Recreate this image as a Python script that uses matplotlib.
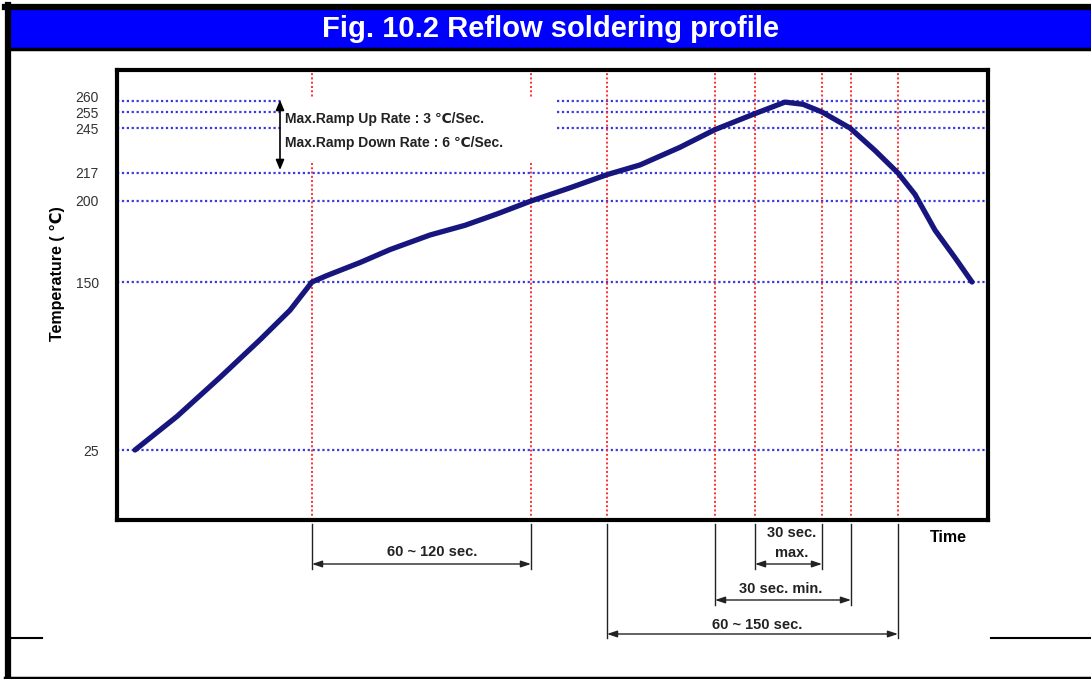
#%% Imports
import numpy as np
import matplotlib.pyplot as plt
import matplotlib.transforms as mtransforms
from matplotlib.patches import Rectangle
from matplotlib.lines import Line2D

#%% Datos (perfil de reflow)

# tiempo en unidades arbitrarias (el eje no tiene escala)
tiempo = [9, 30, 51.5, 71.5, 86.5, 97.5, 105, 121.5, 136.5, 156.5, 174, 190, 207,
          226.5, 245, 261.5, 281.5, 299, 319, 334, 343, 352.5, 366.5, 379, 390.5,
          399, 409, 419, 427.5]
temperatura = [25, 50, 79, 107, 129, 150, 154, 162, 170, 179, 185, 192, 200,
               208, 216, 222, 233, 244, 254, 259.5, 258.5, 255, 245, 231, 217,
               204, 182, 165, 150]

temp_marcas = [25, 150, 200, 217, 245, 255, 260]
tiempo_marcas = [97.5, 207, 245, 299, 319, 352.5, 367, 390.5]

cotas = [  # (t izq, t der, texto)
    (97.5, 207, '60 ~ 120 sec.'),
    (319, 352.5, '30 sec.\nmax.'),
    (299, 367, '30 sec. min.'),
    (245, 390.5, '60 ~ 150 sec.'),
]

titulo = 'Fig. 10.2 Reflow soldering profile'
rampa = 'Max.Ramp Up Rate : 3 \u2103/Sec.\nMax.Ramp Down Rate : 6 \u2103/Sec.'

#%% Escala vertical no lineal (el dibujo original es esquematico)
t_anc = [-27, 25, 150, 200, 217, 245, 255, 260, 274]
p_anc = [0, 70, 238, 319, 347, 392, 408, 419, 450]

def fwd(t):
    return np.interp(t, t_anc, p_anc)

def inv(p):
    return np.interp(p, p_anc, t_anc)

#%% Figura
W, H = 1091, 679
fig = plt.figure(figsize=(W / 100, H / 100), dpi=100)
tp = mtransforms.Affine2D().scale(1, -1).translate(0, H)  # pixeles desde arriba-izq

arial = ['Liberation Sans', 'DejaVu Sans']

# marco del documento
fig.add_artist(Rectangle((11, 10), W - 11, 38, transform=tp, facecolor='#0000ff',
                         edgecolor='none', zorder=0))
fig.add_artist(Line2D([5, W], [7, 7], transform=tp, color='black', lw=4.5))
fig.add_artist(Line2D([11, W], [48.5, 48.5], transform=tp, color='black', lw=2.5))
fig.add_artist(Line2D([8, 8], [5, H], transform=tp, color='black', lw=4.5))
fig.add_artist(Line2D([5, W], [677.5, 677.5], transform=tp, color='black', lw=2.5))
fig.add_artist(Line2D([10, 42], [637.5, 637.5], transform=tp, color='black', lw=1.5))
fig.add_artist(Line2D([991, W], [637.5, 637.5], transform=tp, color='black', lw=1.5))
fig.text(551, 29, titulo, transform=tp, color='white', fontsize=21, fontweight='bold',
         family=arial, ha='center', va='center')

ax = fig.add_axes([117 / W, 1 - 520 / H, (988 - 117) / W, (520 - 70) / H])
ax.set_yscale('function', functions=(fwd, inv))
ax.set_xlim(0, 435.5)
ax.set_ylim(-27, 274)

for T in temp_marcas:
    ax.axhline(T, color='#3a3ae0', ls=(0, (1, 1.2)), lw=1.6, zorder=1.5)
for t in tiempo_marcas:
    ax.axvline(t, color='#ff3030', ls=(0, (1, 1.2)), lw=1.4, zorder=1.6)

ax.plot(tiempo, temperatura, color='#16167e', lw=3.8, solid_capstyle='round',
        solid_joinstyle='round', zorder=4)

# recuadro de texto de rampas
ax.add_patch(Rectangle((283, 97), 273, 64, transform=tp, facecolor='white',
                       edgecolor='none', zorder=2.5))
ax.annotate('', xy=(280, 100), xytext=(280, 170), xycoords=tp, textcoords=tp,
            arrowprops=dict(arrowstyle='<|-|>,head_length=0.6,head_width=0.25',
                            color='black', lw=1.2, shrinkA=0, shrinkB=0), zorder=5)
ax.text(285, 131, rampa, transform=tp, fontsize=10, fontweight='bold', family=arial,
        color='#222222', va='center', ha='left', linespacing=1.95, zorder=5)

ax.set_yticks(temp_marcas)
ax.set_yticklabels([str(T) for T in temp_marcas], family=arial, fontsize=10,
                   color='#333333')
ax.tick_params(axis='y', length=0, pad=13)
# la etiqueta 260 va un poco mas arriba, como en el original
lab260 = ax.get_yticklabels()[-1]
lab260.set_transform(lab260.get_transform()
                     + mtransforms.ScaledTranslation(0, 5 / 100, fig.dpi_scale_trans))
ax.set_xticks([])
for s in ax.spines.values():
    s.set_linewidth(3)
fig.text(57, 274, 'Temperature ( \u2103)', transform=tp, rotation=90, fontsize=11.5,
         fontweight='bold', family=arial, ha='center', va='center')
fig.text(930, 537, 'Time', transform=tp, fontsize=11.5, fontweight='bold',
         family=arial, ha='left', va='center')

# cotas debajo del eje
bt = mtransforms.blended_transform_factory(ax.transData, tp)
y_flecha = [564, 564, 600, 634]
y_fin = [569, 569, 605, 638]
txt_pos = [(432, 552), (792, 543), (781, 589), (757, 625)]
for (t1, t2, lab), yf, ye, (xl, yl) in zip(cotas, y_flecha, y_fin, txt_pos):
    for t in (t1, t2):
        ax.add_line(Line2D([t, t], [524, ye], transform=bt, color='#222222', lw=1,
                           clip_on=False))
    ax.annotate('', xy=(t1, yf), xytext=(t2, yf), xycoords=bt, textcoords=bt,
                arrowprops=dict(arrowstyle='<|-|>,head_length=0.6,head_width=0.2',
                                color='#222222', lw=1, shrinkA=0, shrinkB=0),
                annotation_clip=False)
    ax.text(xl, yl, lab, transform=tp, fontsize=10.5, fontweight='bold', family=arial,
            ha='center', va='center', color='#222222', linespacing=1.5)

fig.savefig('out.png', dpi=100)
